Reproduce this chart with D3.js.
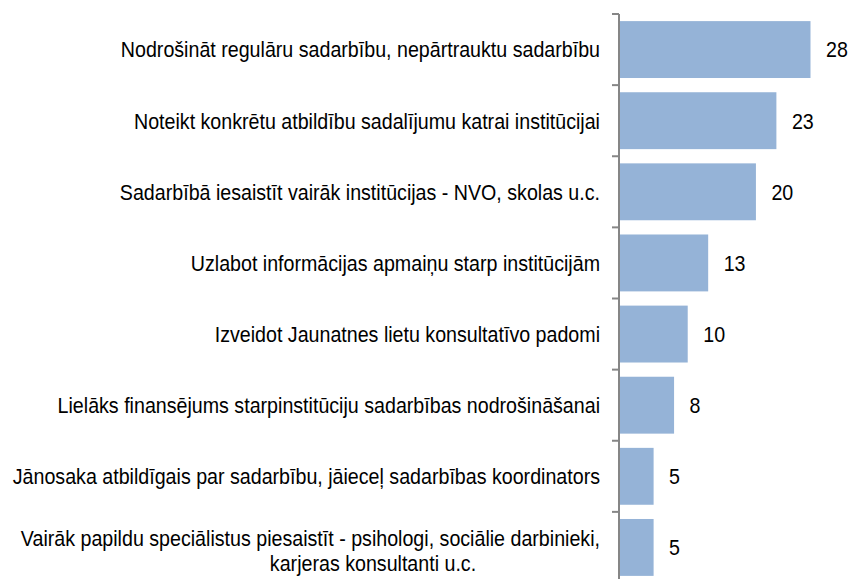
<!DOCTYPE html>
<html>
<head>
<meta charset="utf-8">
<script src="https://cdn.jsdelivr.net/npm/d3@7"></script>
<style>
  html, body { margin: 0; padding: 0; background: #fff; }
  svg { display: block; }
  text { font-family: "Liberation Sans", Arial, sans-serif; fill: #000; }
</style>
</head>
<body>
<svg id="chart" width="849" height="579"></svg>
<script>
const categories = [
  ["Nodrošināt regulāru sadarbību, nepārtrauktu sadarbību"],
  ["Noteikt konkrētu atbildību sadalījumu katrai institūcijai"],
  ["Sadarbībā iesaistīt vairāk institūcijas - NVO, skolas u.c."],
  ["Uzlabot informācijas apmaiņu starp institūcijām"],
  ["Izveidot Jaunatnes lietu konsultatīvo padomi"],
  ["Lielāks finansējums starpinstitūciju sadarbības nodrošināšanai"],
  ["Jānosaka atbildīgais par sadarbību, jāieceļ sadarbības koordinators"],
  ["Vairāk papildu speciālistus piesaistīt - psihologi, sociālie darbinieki,", "karjeras konsultanti u.c."]
];
const values = [28, 23, 20, 13, 10, 8, 5, 5];

const svg = d3.select("#chart");
const axisX = 619;
const fontSize = 22;
const squeeze = 0.893;   // narrow-font look

const y = d3.scaleBand()
  .domain(d3.range(categories.length))
  .range([14, 583])
  .paddingInner(0.2)
  .paddingOuter(0.1);

const x = d3.scaleLinear().domain([0, 28]).range([axisX, 810]);

// bars
svg.append("g").selectAll("rect")
  .data(values)
  .join("rect")
  .attr("x", x(0) + 0.5)
  .attr("y", (d, i) => y(i))
  .attr("width", d => x(d) - x(0))
  .attr("height", y.bandwidth())
  .attr("fill", "#95B3D7");

// axis line + ticks at band boundaries
const step = y.step();
const y0 = y.range()[0];
const g = svg.append("g").attr("stroke", "#868686").attr("stroke-width", 2);
g.append("line").attr("x1", axisX).attr("x2", axisX).attr("y1", y0).attr("y2", y.range()[1]);
g.selectAll("line.tick")
  .data(d3.range(categories.length + 1))
  .join("line")
  .attr("class", "tick")
  .attr("x1", axisX - 7).attr("x2", axisX)
  .attr("y1", i => y0 + i * step).attr("y2", i => y0 + i * step);

function label(parent, tx, ty, anchor, txt) {
  parent.append("g")
    .attr("transform", `translate(${tx},${ty}) scale(${squeeze},1)`)
    .append("text")
    .attr("text-anchor", anchor)
    .attr("dy", "0.36em")
    .attr("font-size", fontSize)
    .text(txt);
}

// category labels
const lineH = 25;
const catG = svg.append("g");
categories.forEach((lines, i) => {
  const cy = y(i) + y.bandwidth() / 2;
  const n = lines.length;
  lines.forEach((t, k) => {
    const ly = cy + (k - (n - 1) / 2) * lineH + (n > 1 ? 3 : 0);
    if (k === 0) label(catG, 600, ly, "end", t);
    else label(catG, 373, ly, "middle", t);
  });
});

// value labels
const valG = svg.append("g");
values.forEach((v, i) => {
  label(valG, x(v) + 16, y(i) + y.bandwidth() / 2, "start", String(v));
});
</script>
</body>
</html>
